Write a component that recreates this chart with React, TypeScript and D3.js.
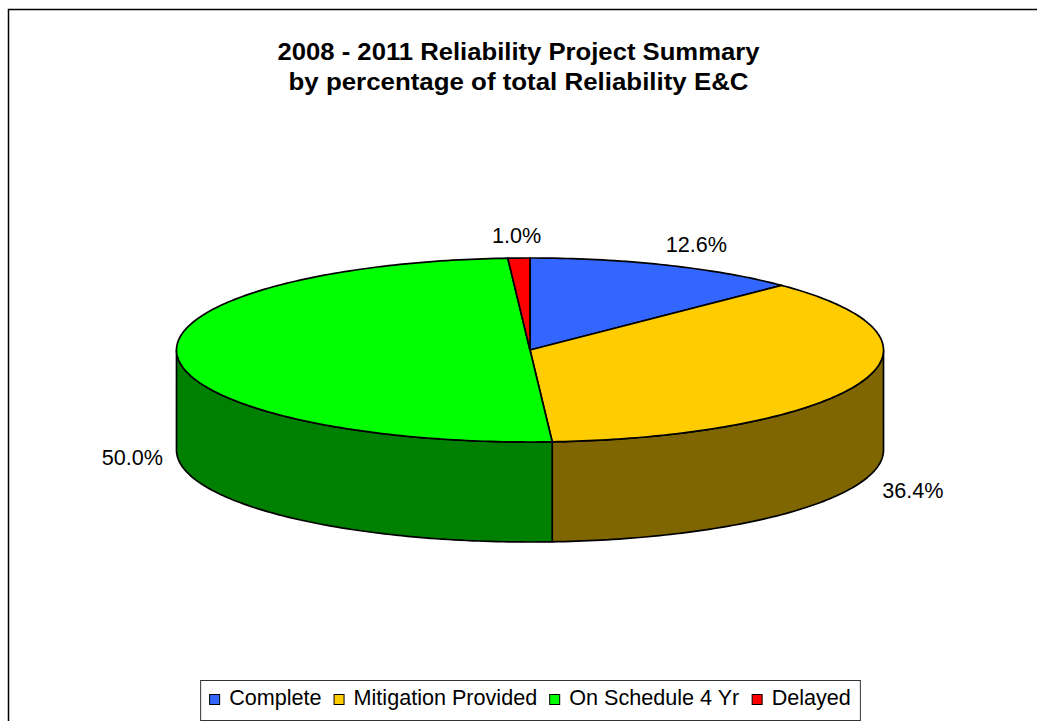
import * as d3 from "d3";

// chart data
const categories = ["Complete", "Mitigation Provided", "On Schedule 4 Yr", "Delayed"];
const shares = [12.6, 36.4, 50.0, 1.0];
const topColors = ["#3366FF", "#FFCC00", "#00FF00", "#FF0000"];
const sideColors = ["#1A3380", "#806600", "#008000", "#800000"];
const titleLines = [
  "2008 - 2011 Reliability Project Summary",
  "by percentage of total Reliability E&C",
];

const W = 1037;
const H = 721;
const FONT = "'Liberation Sans', Arial, Helvetica, sans-serif";

// pie geometry (Excel-style 3D pie)
const cx = 530;
const cy = 350;
const rx = 353.5;
const ry = 92;
const depth = 100;

const line = d3.line<[number, number]>();

function rim(a0: number, a1: number, yOff: number): [number, number][] {
  const n = Math.max(2, Math.ceil(Math.abs(a1 - a0) / (Math.PI / 180)));
  return d3.range(n + 1).map((i) => {
    const a = a0 + ((a1 - a0) * i) / n;
    return [cx + rx * Math.sin(a), cy - ry * Math.cos(a) + yOff] as [number, number];
  });
}

function measure(text: string, font: string) {
  const ctx = document.createElement("canvas").getContext("2d");
  if (!ctx) return text.length * 10;
  ctx.font = font;
  return ctx.measureText(text).width;
}

export default function App() {
  const pie = d3
    .pie<number>()
    .sort(null)
    .value((d) => d);
  const arcs = pie(shares);

  // side faces only on the front half (90deg .. 270deg)
  const sides = arcs
    .map((a, i) => {
      const s = Math.max(a.startAngle, Math.PI / 2);
      const e = Math.min(a.endAngle, (3 * Math.PI) / 2);
      if (s >= e) return null;
      const pts = [...rim(s, e, 0), ...rim(e, s, depth)];
      return { i, d: line(pts) + "Z" };
    })
    .filter((d): d is { i: number; d: string } => d !== null);

  const tops = arcs.map((a, i) => ({
    i,
    d: line([[cx, cy], ...rim(a.startAngle, a.endAngle, 0)]) + "Z",
  }));

  // data labels outside each slice
  const labelFont = 21.6;
  const labels = arcs.map((a, i) => {
    const m = (a.startAngle + a.endAngle) / 2;
    const s = Math.sin(m);
    const c = Math.cos(m);
    const text = d3.format(".1f")(shares[i]) + "%";
    const w = measure(text, `${labelFont}px ${FONT}`);
    const gx = 12 + 38 * Math.abs(c);
    const gy = 15;
    const x = cx + (rx + gx) * s + (s * w) / 2;
    const y = cy - (ry + gy) * c - (c * 15) / 2 + (c < 0 ? depth : 0);
    return { text, x, y: y + 7.5 };
  });

  // legend layout
  const legSize = 21.6;
  const legFont = `${legSize}px ${FONT}`;
  const sq = 10;
  const gapSq = 10;
  const gapItem = 12;
  const widths = categories.map((c) => measure(c, legFont));
  const itemW = widths.map((w) => sq + gapSq + w);
  const total = d3.sum(itemW) + gapItem * (categories.length - 1);
  const padX = 9;
  const legX0 = cx - total / 2;
  const offsets = itemW.map((_, i) => d3.sum(itemW.slice(0, i)) + gapItem * i);
  const legTop = 680;
  const legBottom = 720;

  return (
    <svg
      width={W}
      height={H}
      style={{ position: "fixed", left: 0, top: 0, background: "#fff" }}
      fontFamily={FONT}
    >
      <rect x={0} y={0} width={W} height={H} fill="#fff" />
      <rect x={8.5} y={9.5} width={W + 100} height={H + 100} fill="none" stroke="#000" strokeWidth={1.5} />

      {titleLines.map((t, i) => (
        <text
          key={t}
          x={518.5}
          y={59.5 + i * 30}
          textAnchor="middle"
          fontSize={23.5}
          fontWeight="bold"
          fill="#000"
          textLength={i === 0 ? 482 : 460}
          lengthAdjust="spacingAndGlyphs"
        >
          {t}
        </text>
      ))}

      <g stroke="#000" strokeWidth={1.7} strokeLinejoin="round">
        {sides.map((s) => (
          <path key={"s" + s.i} d={s.d} fill={sideColors[s.i]} />
        ))}
        {tops.map((t) => (
          <path key={"t" + t.i} d={t.d} fill={topColors[t.i]} />
        ))}
      </g>

      {labels.map((l) => (
        <text key={l.text} x={l.x} y={l.y} textAnchor="middle" fontSize={labelFont} fill="#000">
          {l.text}
        </text>
      ))}

      <rect
        x={legX0 - padX + 0.5}
        y={legTop + 0.5}
        width={total + padX * 2}
        height={legBottom - legTop}
        fill="#fff"
        stroke="#333"
        strokeWidth={1}
      />
      {categories.map((c, i) => {
        const x = legX0 + offsets[i];
        return (
          <g key={c}>
            <rect x={x + 0.5} y={694.5} width={sq} height={sq} fill={topColors[i]} stroke="#000" strokeWidth={1} />
            <text x={x + sq + gapSq} y={705} fontSize={legSize} fill="#000">
              {c}
            </text>
          </g>
        );
      })}
    </svg>
  );
}
